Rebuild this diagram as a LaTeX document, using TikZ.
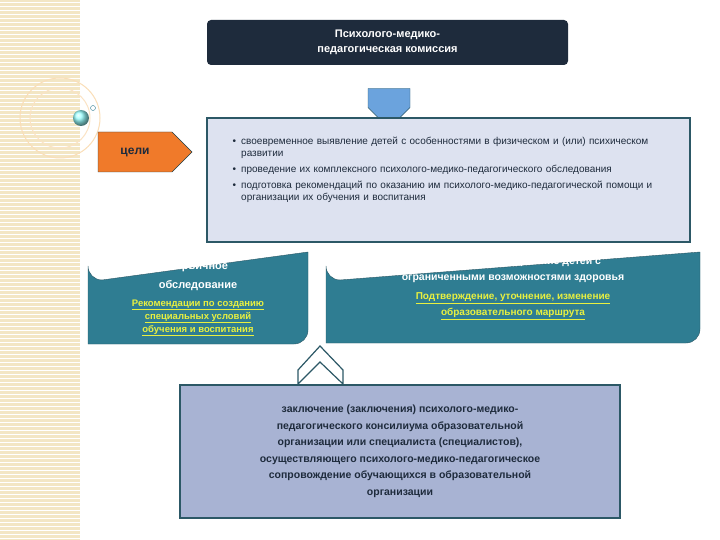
\documentclass[tikz,border=0pt]{standalone}
\usepackage{fontspec}
\setmainfont{Liberation Sans}
\usetikzlibrary{shapes.arrows,shapes.symbols}
\definecolor{navy}{HTML}{1E2B3C}
\definecolor{teal1}{HTML}{2F7D92}
\definecolor{bord}{HTML}{2C5866}
\definecolor{lav}{HTML}{DDE2F0}
\definecolor{lav2}{HTML}{A8B3D3}
\definecolor{orng}{HTML}{F07A2A}
\definecolor{beige}{HTML}{F3E6C4}
\definecolor{ylw}{HTML}{E8F040}
\tikzset{every node/.style={align=center,inner sep=0pt},
 txt/.style={font=\fontsize{10}{12}\selectfont},
 lnk/.style={font=\bfseries\fontsize{9.5}{13}\selectfont,text=ylw},
 wht/.style={text=white,font=\bfseries\fontsize{11}{19}\selectfont}}
\newcommand{\ul}[1]{\underline{#1}}
\begin{document}
\begin{tikzpicture}[x=1pt,y=-1pt]
\useasboundingbox (0,0) rectangle (720,540);
\fill[white] (0,0) rectangle (720,540);
\fill[beige] (0,0) rectangle (80,540);
\foreach \y in {2,6,...,538} \draw[white,line width=0.6pt] (0,\y) -- (80,\y);
\draw[beige!70!orange!60,line width=1pt] (60,118) circle (40);
\draw[beige!70!orange!50,line width=1pt] (60,118) circle (30);
\shade[ball color=cyan!40] (81,118) circle (8);
\draw[teal1,fill=white] (93,108) circle (2.5);
% title
\node[fill=navy,rounded corners=4pt,minimum width=361pt,minimum height=45pt,text=white,font=\bfseries\fontsize{11}{15}\selectfont] (title) at (387.5,42.5) {Психолого-медико-\\педагогическая комиссия};
% down arrow
\node[single arrow,shape border rotate=270,fill=cyan!60!blue!60,draw=bord,minimum width=42pt,minimum height=40pt,single arrow head extend=0pt,single arrow tip angle=90] (arr) at (389,98) {};
% goals
\node[signal,signal to=east,fill=orng,draw=bord!70!black,minimum width=94pt,minimum height=40pt,font=\bfseries\fontsize{12}{14}\selectfont,text=navy] (goal) at (135,152) {цели};
\node[fill=lav,draw=bord,line width=1.2pt,minimum width=483pt,minimum height=124pt] (gbox) at (448.5,180) {};
\node[anchor=north west,align=left,txt,text=navy,text width=450pt] (glist) at (216,124) {%
\begin{itemize}\setlength{\itemsep}{0pt}\setlength{\parsep}{0pt}\setlength{\topsep}{0pt}\setlength{\leftmargin}{20pt}
\item своевременное выявление детей с особенностями в физическом и (или) психическом развитии
\item проведение их комплексного психолого-медико-педагогического обследования
\item подготовка рекомендаций по оказанию им психолого-медико-педагогической помощи и организации их обучения и воспитания
\end{itemize}};
% teal boxes
\path[fill=teal1,draw=bord] (88,266) arc[start angle=180,end angle=90,radius=14] -- (308,252) -- (308,330) arc[start angle=0,end angle=90,radius=14] -- (88,344) -- cycle;
\node[wht] (prim) at (198,276) {Первичное\\обследование};
\node[lnk] (primr) at (198,318) {\ul{Рекомендации по созданию}\\\ul{специальных условий}\\\ul{обучения и воспитания}};
\path[fill=teal1,draw=bord] (326,266) arc[start angle=180,end angle=90,radius=14] -- (700,252) -- (700,329) arc[start angle=0,end angle=90,radius=14] -- (326,343) -- cycle;
\node[text=white,font=\bfseries\fontsize{10.5}{16}\selectfont] (rep) at (513,270) {Повторное обследование детей с\\ограниченными возможностями здоровья};
\node[lnk,font=\bfseries\fontsize{10}{16}\selectfont] (repr) at (513,306) {\ul{Подтверждение, уточнение, изменение}\\\ul{образовательного маршрута}};
% chevron
\draw[bord,fill=white,line width=1.2pt] (298,384) -- (298,370) -- (320,346) -- (343,370) -- (343,384) -- (320,362) -- cycle;
% bottom
\node[fill=lav2,draw=bord,line width=1.5pt,minimum width=440pt,minimum height=133pt,text=navy,font=\bfseries\fontsize{10.5}{16.5}\selectfont] (bot) at (400,451.5) {заключение (заключения) психолого-медико-\\педагогического консилиума образовательной\\организации или специалиста (специалистов),\\осуществляющего психолого-медико-педагогическое\\сопровождение обучающихся в образовательной\\организации};
\end{tikzpicture}
\end{document}
